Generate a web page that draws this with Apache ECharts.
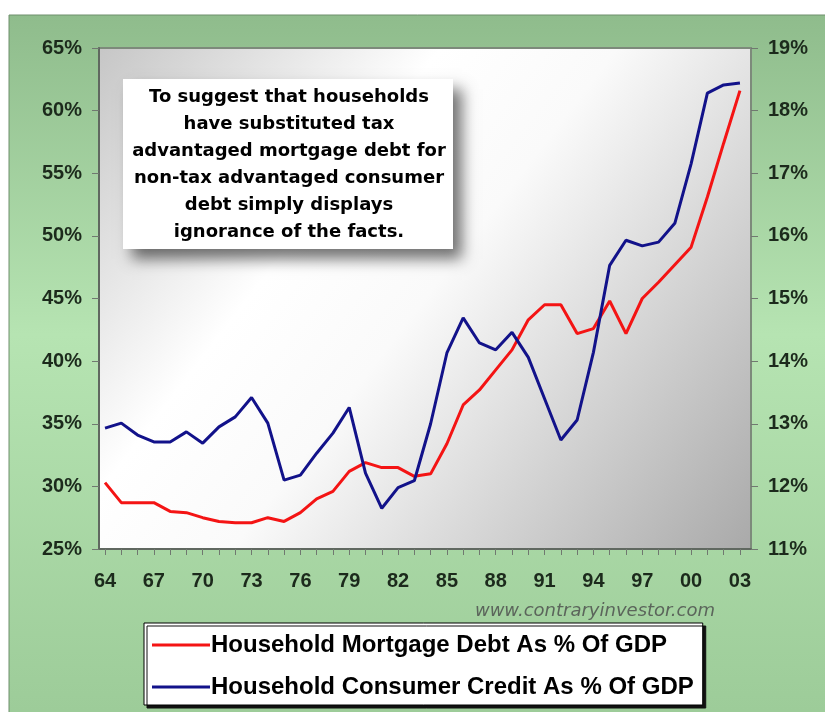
<!DOCTYPE html>
<html>
<head>
<meta charset="utf-8">
<script src="https://cdn.jsdelivr.net/npm/echarts@6/dist/echarts.min.js"></script>
<style>
  html, body { margin: 0; padding: 0; background: #fff; }
  #chart { width: 825px; height: 712px; }
</style>
</head>
<body>
<div id="chart"></div>
<script>
// years 1964 - 2003
const years = [1964, 1965, 1966, 1967, 1968, 1969, 1970, 1971, 1972, 1973,
  1974, 1975, 1976, 1977, 1978, 1979, 1980, 1981, 1982, 1983,
  1984, 1985, 1986, 1987, 1988, 1989, 1990, 1991, 1992, 1993,
  1994, 1995, 1996, 1997, 1998, 1999, 2000, 2001, 2002, 2003];

// left axis, % of GDP
const mortgageDebt = [30.3, 28.7, 28.7, 28.7, 28.0, 27.9, 27.5, 27.2, 27.1, 27.1,
  27.5, 27.2, 27.9, 29.0, 29.6, 31.2, 31.9, 31.5, 31.5, 30.8,
  31.0, 33.4, 36.5, 37.7, 39.3, 40.9, 43.3, 44.5, 44.5, 42.2,
  42.6, 44.8, 42.2, 45.0, 46.3, 47.7, 49.1, 53.1, 57.4, 61.6];

// right axis, % of GDP
const consumerCredit = [12.93, 13.01, 12.82, 12.71, 12.71, 12.87, 12.69, 12.95, 13.11, 13.42,
  13.01, 12.10, 12.18, 12.53, 12.85, 13.26, 12.21, 11.65, 11.98, 12.09,
  13.0, 14.13, 14.69, 14.29, 14.18, 14.46, 14.06, 13.40, 12.74, 13.06,
  14.14, 15.53, 15.93, 15.84, 15.90, 16.20, 17.15, 18.28, 18.41, 18.44];

const labelYears = [1964, 1967, 1970, 1973, 1976, 1979, 1982, 1985, 1988, 1991, 1994, 1997, 2000, 2003];

const seriesNames = ["Household Mortgage Debt As % Of GDP", "Household Consumer Credit As % Of GDP"];

const note = [
  "To suggest that households",
  "have substituted tax",
  "advantaged mortgage debt for",
  "non-tax advantaged consumer",
  "debt simply displays",
  "ignorance of the facts."
];

const chart = echarts.init(document.getElementById("chart"));

const labelStyle = {
  color: "#1c2a1c",
  fontFamily: "Liberation Sans",
  fontWeight: "bold",
  fontSize: 20
};

chart.setOption({
  animation: false,
  backgroundColor: "#ffffff",
  textStyle: { fontFamily: "Liberation Sans" },
  graphic: [
    {
      type: "rect",
      z: -100,
      shape: { x: 9, y: 15, width: 830, height: 710 },
      style: {
        fill: new echarts.graphic.LinearGradient(0, 0, 0, 1, [
          { offset: 0, color: "#8fbc8c" },
          { offset: 0.45, color: "#b6e4b2" },
          { offset: 1, color: "#9ccb98" }
        ]),
        stroke: "#6f8f6c",
        lineWidth: 1
      }
    },
    {
      type: "group",
      z: 100,
      children: [
        {
          type: "rect",
          shape: { x: 123, y: 79, width: 330, height: 170 },
          style: {
            fill: "#ffffff",
            shadowBlur: 14,
            shadowOffsetX: 9,
            shadowOffsetY: 10,
            shadowColor: "rgba(0,0,0,0.55)"
          }
        },
        {
          type: "text",
          x: 289,
          y: 84,
          style: {
            text: note.join("\n"),
            align: "center",
            verticalAlign: "top",
            fill: "#000",
            font: "bold 18px DejaVu Sans",
            lineHeight: 27
          }
        }
      ]
    },
    {
      type: "text",
      z: 100,
      x: 715,
      y: 611,
      style: {
        text: "www.contraryinvestor.com",
        align: "right",
        verticalAlign: "middle",
        fill: "#5b655b",
        font: "italic 18px DejaVu Sans"
      }
    }
  ],
  grid: {
    left: 99,
    right: 74,
    top: 48,
    bottom: 163,
    show: true,
    borderColor: "#7d8a7b",
    borderWidth: 2,
    backgroundColor: new echarts.graphic.LinearGradient(0, 0, 1, 1, [
      { offset: 0, color: "#c6c6c6" },
      { offset: 0.33, color: "#ffffff" },
      { offset: 0.5, color: "#fafafa" },
      { offset: 1, color: "#a9a9a9" }
    ])
  },
  legend: {
    left: 144,
    top: 623,
    orient: "vertical",
    itemGap: 18,
    itemWidth: 58,
    itemHeight: 3,
    icon: "rect",
    padding: [10, 9, 6, 8],
    backgroundColor: "#ffffff",
    borderColor: "#000",
    borderWidth: 1,
    shadowColor: "#111",
    shadowOffsetX: 3,
    shadowOffsetY: 3,
    shadowBlur: 0,
    textStyle: {
      color: "#000",
      fontFamily: "Liberation Sans",
      fontSize: 24,
      fontWeight: "bold",
      padding: [0, 0, 0, -4]
    },
    data: seriesNames
  },
  xAxis: {
    type: "value",
    min: 1963.63,
    max: 2003.68,
    splitLine: { show: false },
    axisLine: { show: true, lineStyle: { color: "#606860", width: 2 } },
    axisTick: {
      show: true,
      length: 6,
      customValues: years,
      lineStyle: { color: "#707870" }
    },
    axisLabel: Object.assign({
      margin: 22,
      customValues: labelYears,
      formatter: function (v) { return String(v).slice(2); }
    }, labelStyle)
  },
  yAxis: [
    {
      type: "value",
      min: 25,
      max: 65,
      interval: 5,
      splitLine: { show: false },
      axisLine: { show: true, lineStyle: { color: "#606860", width: 2 } },
      axisTick: { show: true, length: 7, lineStyle: { color: "#707870" } },
      axisLabel: Object.assign({ margin: 17, formatter: "{value}%" }, labelStyle)
    },
    {
      type: "value",
      min: 11,
      max: 19,
      interval: 1,
      position: "right",
      splitLine: { show: false },
      axisLine: { show: true, lineStyle: { color: "#7d8a7b", width: 2 } },
      axisTick: { show: true, length: 7, lineStyle: { color: "#707870" } },
      axisLabel: Object.assign({ margin: 17, formatter: "{value}%" }, labelStyle)
    }
  ],
  series: [
    {
      name: seriesNames[0],
      type: "line",
      yAxisIndex: 0,
      showSymbol: false,
      symbol: "none",
      color: "#f41414",
      lineStyle: { width: 3, color: "#f41414" },
      data: years.map(function (y, i) { return [y, mortgageDebt[i]]; })
    },
    {
      name: seriesNames[1],
      type: "line",
      yAxisIndex: 1,
      showSymbol: false,
      symbol: "none",
      color: "#12128a",
      lineStyle: { width: 3, color: "#12128a" },
      data: years.map(function (y, i) { return [y, consumerCredit[i]]; })
    }
  ]
});
</script>
</body>
</html>
